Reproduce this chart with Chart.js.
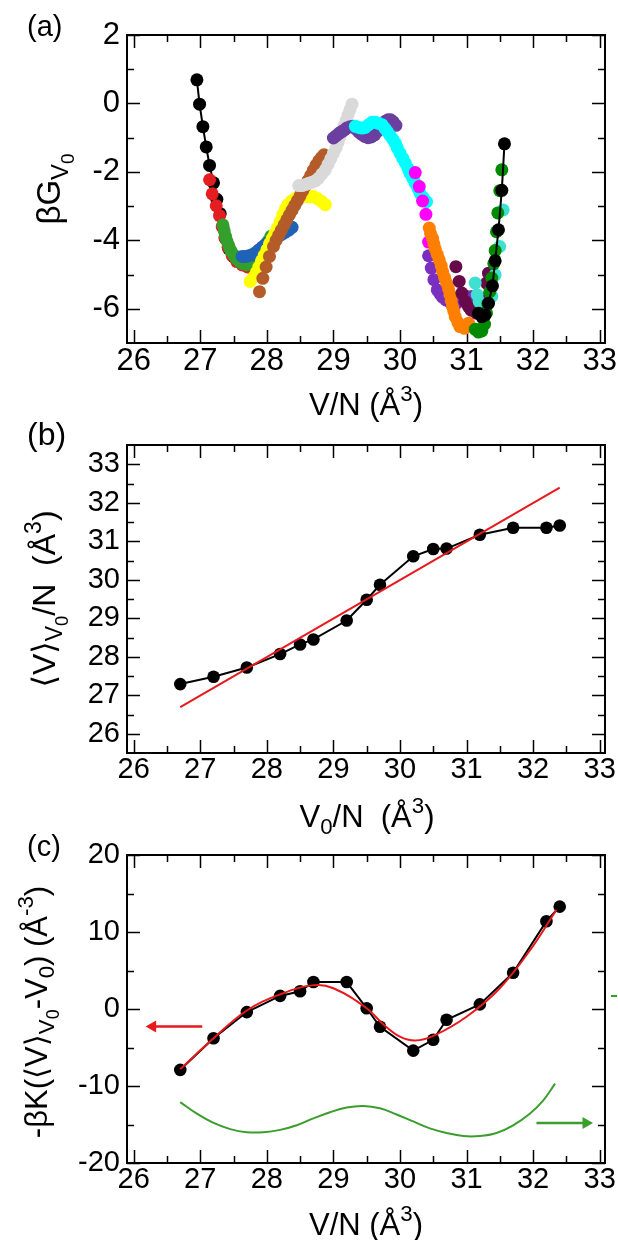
<!DOCTYPE html>
<html>
<head>
<meta charset="utf-8">
<script src="https://cdn.jsdelivr.net/npm/chart.js@4.4.1/dist/chart.umd.min.js"></script>
<style>
  body { margin: 0; background: #fff; }
  #page { position: relative; width: 618px; height: 1240px; overflow: hidden; font-family: "Liberation Sans", "DejaVu Sans", sans-serif; color: #000; }
  #page canvas { position: absolute; left: 0; }
  .lbl { position: absolute; line-height: 1; white-space: nowrap; }
  .rot { transform: translate(-50%, -50%) rotate(-90deg); }
  .ctr { transform: translateX(-50%); }
  .lbl sub { font-size: 0.72em; vertical-align: -0.32em; line-height: 0; }
  .lbl sub sub { font-size: 0.8em; vertical-align: -0.3em; }
  .lbl sup { font-size: 0.72em; vertical-align: 0.62em; line-height: 0; }
  .dash { position: absolute; left: 611px; top: 995px; width: 6px; height: 2px; background: #33a02c; }
</style>
</head>
<body>
<div id="page">
  <canvas id="chartA" width="618" height="400" style="top:0"></canvas>
  <canvas id="chartB" width="618" height="400" style="top:410px"></canvas>
  <canvas id="chartC" width="618" height="400" style="top:820px"></canvas>

  <div class="lbl" style="left:27px;top:12px;font-size:29px">(a)</div>
  <div class="lbl rot" style="left:50px;top:189px;font-size:33px">βG<sub>V<sub>0</sub></sub></div>
  <div class="lbl ctr" style="left:366px;top:389px;font-size:31px">V/N (Å<sup>3</sup>)</div>

  <div class="lbl" style="left:27px;top:418px;font-size:32px">(b)</div>
  <div class="lbl rot" style="left:45px;top:599px;font-size:32px">⟨V⟩<sub>V<sub>0</sub></sub>/N&nbsp; (Å<sup>3</sup>)</div>
  <div class="lbl ctr" style="left:367px;top:801px;font-size:31px">V<sub>0</sub>/N&nbsp; (Å<sup>3</sup>)</div>

  <div class="lbl" style="left:27px;top:832px;font-size:29px">(c)</div>
  <div class="lbl rot" style="left:37px;top:1012px;font-size:31px">-βK(⟨V⟩<sub>V<sub>0</sub></sub>-V<sub>0</sub>) (Å<sup>-3</sup>)</div>
  <div class="lbl ctr" style="left:366px;top:1209px;font-size:31px">V/N (Å<sup>3</sup>)</div>
  <div class="dash"></div>
</div>
<script>
// shared x ticks (V/N)
var xMajor = [26, 27, 28, 29, 30, 31, 32, 33];
var xMinor = [26.5, 27.5, 28.5, 29.5, 30.5, 31.5, 32.5];

// (a) beta*G for each umbrella window, [V/N, betaG]
var aYMajor = [-6, -4, -2, 0, 2];
var aYMinor = [-5, -3, -1, 1];
var aBlackLeft = [[26.95,0.69],[26.99,-0.02],[27.04,-0.68],[27.09,-1.27],[27.14,-1.81],[27.20,-2.32],[27.25,-2.80],[27.30,-3.22],[27.34,-3.60],[27.38,-3.95],[27.43,-4.25],[27.50,-4.48],[27.58,-4.62],[27.67,-4.68]];
var aRed = [[27.14,-2.23],[27.18,-2.64],[27.24,-2.99],[27.29,-3.28],[27.33,-3.60],[27.37,-3.92],[27.42,-4.20],[27.48,-4.45],[27.55,-4.62],[27.63,-4.72],[27.71,-4.78],[27.78,-4.81]];
var aGreen = [[27.34,-3.55],[27.36,-3.72],[27.38,-3.88],[27.40,-4.02],[27.43,-4.16],[27.46,-4.30],[27.50,-4.42],[27.54,-4.53],[27.59,-4.62],[27.64,-4.68],[27.70,-4.72],[27.76,-4.70],[27.82,-4.62],[27.87,-4.50],[27.92,-4.36],[27.97,-4.20],[28.02,-4.02],[28.06,-3.88]];
var aBlue = [[27.63,-4.47],[27.68,-4.47],[27.73,-4.45],[27.78,-4.42],[27.83,-4.36],[27.88,-4.28],[27.93,-4.20],[27.98,-4.12],[28.03,-4.06],[28.08,-4.00],[28.13,-3.94],[28.18,-3.88],[28.23,-3.82],[28.28,-3.76],[28.33,-3.70],[28.38,-3.62]];
var aYellow = [[27.75,-5.20],[27.80,-5.08],[27.84,-4.95],[27.88,-4.78],[27.92,-4.60],[27.96,-4.44],[28.00,-4.28],[28.04,-4.10],[28.08,-3.95],[28.12,-3.80],[28.16,-3.64],[28.20,-3.45],[28.24,-3.25],[28.28,-3.08],[28.32,-2.95],[28.37,-2.85],[28.43,-2.78],[28.50,-2.74],[28.57,-2.72],[28.64,-2.72],[28.70,-2.72],[28.76,-2.78],[28.82,-2.86],[28.88,-2.96]];
var aBrown = [[27.89,-5.50],[27.94,-5.11],[27.99,-4.78],[28.04,-4.47],[28.10,-4.18],[28.14,-4.00],[28.18,-3.85],[28.22,-3.70],[28.26,-3.55],[28.30,-3.40],[28.34,-3.26],[28.38,-3.12],[28.42,-2.98],[28.46,-2.84],[28.50,-2.70],[28.54,-2.55],[28.58,-2.40],[28.62,-2.25],[28.66,-2.10],[28.70,-1.95],[28.74,-1.80],[28.78,-1.68],[28.82,-1.58],[28.86,-1.50]];
var aGrey = [[28.48,-2.40],[28.53,-2.40],[28.58,-2.37],[28.63,-2.33],[28.68,-2.30],[28.73,-2.26],[28.78,-2.18],[28.83,-2.06],[28.88,-1.94],[28.92,-1.78],[28.96,-1.62],[29.00,-1.46],[29.04,-1.30],[29.07,-1.14],[29.10,-0.98],[29.13,-0.82],[29.16,-0.66],[29.19,-0.50],[29.22,-0.34],[29.25,-0.18],[29.28,-0.02]];
var aPurple = [[29.00,-1.01],[29.04,-0.95],[29.08,-0.88],[29.12,-0.83],[29.16,-0.78],[29.20,-0.72],[29.25,-0.68],[29.30,-0.67],[29.34,-0.75],[29.38,-0.83],[29.42,-0.90],[29.47,-0.96],[29.52,-1.00],[29.57,-0.98],[29.62,-0.92],[29.66,-0.82],[29.70,-0.70],[29.74,-0.60],[29.78,-0.52],[29.82,-0.48],[29.86,-0.48],[29.90,-0.54],[29.94,-0.64]];
var aCyan = [[29.33,-0.67],[29.38,-0.70],[29.43,-0.72],[29.48,-0.70],[29.53,-0.62],[29.58,-0.55],[29.63,-0.55],[29.68,-0.58],[29.73,-0.62],[29.77,-0.72],[29.81,-0.82],[29.85,-0.93],[29.89,-1.04],[29.93,-1.16],[29.96,-1.30],[30.00,-1.45],[30.04,-1.60],[30.08,-1.74],[30.12,-1.90],[30.15,-2.04],[30.19,-2.18],[30.23,-2.33],[30.27,-2.48],[30.30,-2.62],[30.35,-2.75],[30.40,-2.87]];
var aMagenta = [[30.23,-2.02],[30.29,-2.43],[30.34,-2.85],[30.39,-3.24],[30.43,-4.05],[30.85,-5.84]];
var aViolet = [[30.43,-4.45],[30.47,-4.81],[30.51,-5.15],[30.56,-5.45],[30.60,-5.56],[30.64,-5.66],[30.69,-5.74],[30.75,-5.80],[30.81,-5.82],[30.87,-5.80],[30.93,-5.72],[31.00,-5.64],[31.08,-5.64]];
var aOrange = [[30.44,-3.64],[30.46,-3.80],[30.49,-3.94],[30.51,-4.10],[30.53,-4.25],[30.56,-4.41],[30.59,-4.57],[30.62,-4.74],[30.64,-4.91],[30.67,-5.08],[30.70,-5.25],[30.73,-5.42],[30.75,-5.59],[30.77,-5.76],[30.79,-5.94],[30.81,-6.08],[30.83,-6.23],[30.87,-6.40],[30.90,-6.52],[30.97,-6.57],[31.03,-6.42]];
var aMaroon = [[30.84,-4.77],[30.89,-5.20],[30.93,-5.54],[30.98,-5.79],[31.03,-5.94],[31.07,-6.04],[31.15,-6.13],[31.22,-6.05],[31.27,-5.70],[31.30,-5.25],[31.33,-4.96]];
var aTurquoise = [[31.13,-5.25],[31.16,-5.59],[31.19,-5.79],[31.38,-5.64],[31.43,-5.01],[31.50,-4.18],[31.55,-3.11]];
var aDarkGreen = [[31.13,-6.60],[31.18,-6.68],[31.23,-6.65],[31.27,-6.45],[31.30,-6.12],[31.32,-5.85],[31.35,-5.50],[31.38,-5.10],[31.41,-4.68],[31.43,-4.30],[31.45,-3.75],[31.47,-3.20],[31.50,-2.55],[31.53,-1.94]];
var aBlackRight = [[31.18,-6.13],[31.23,-6.23],[31.28,-6.18],[31.33,-5.84],[31.39,-5.33],[31.43,-4.60],[31.48,-3.69],[31.53,-2.54],[31.57,-1.18]];

// (b) <V>_V0 / N against V0 / N
var bYMajor = [26, 27, 28, 29, 30, 31, 32, 33];
var bYMinor = [26.5, 27.5, 28.5, 29.5, 30.5, 31.5, 32.5];
var v0 = [26.7, 27.2, 27.7, 28.2, 28.5, 28.7, 29.2, 29.5, 29.7, 30.2, 30.5, 30.7, 31.2, 31.7, 32.2, 32.4];
var meanV = [27.29, 27.48, 27.72, 28.07, 28.32, 28.45, 28.94, 29.48, 29.87, 30.61, 30.80, 30.81, 31.17, 31.35, 31.35, 31.41];
var bDiagX = [26.7, 32.4];
var bDiagY = [26.69, 32.39];

// (c) -betaK(<V>_V0 - V0) with smooth fit and right-axis curve
var cYMajor = [-20, -10, 0, 10, 20];
var cYMinor = [-15, -5, 5, 15];
var force = [-7.9, -3.8, -0.4, 1.7, 2.3, 3.5, 3.5, 0.1, -2.3, -5.4, -4.0, -1.4, 0.6, 4.7, 11.4, 13.3];
var fitX = [26.7, 27.2, 27.7, 28.2, 28.7, 29.0, 29.5, 29.75, 30.0, 30.23, 30.5, 31.0, 31.5, 32.0, 32.35];
var fitY = [-7.8, -3.8, -0.2, 1.9, 3.1, 2.7, 0.1, -2.0, -3.6, -4.1, -3.5, -1.0, 2.7, 8.2, 12.9];
var greenX = [26.7, 26.95, 27.2, 27.45, 27.7, 27.95, 28.2, 28.45, 28.7, 28.95, 29.2, 29.45, 29.7, 29.95, 30.2, 30.45, 30.7, 30.95, 31.2, 31.45, 31.7, 31.95, 32.15, 32.33];
var greenY = [-12.1, -13.6, -14.8, -15.6, -16.0, -16.0, -15.7, -15.1, -14.2, -13.4, -12.8, -12.6, -12.9, -13.7, -14.6, -15.5, -16.1, -16.5, -16.5, -16.1, -15.1, -13.6, -11.9, -9.7];
var redArrow = [[27.03, -2.27], [26.285, -2.27]];
var greenArrow = [[32.05, -14.8], [32.795, -14.8]];

var FONT = '"Liberation Sans", "DejaVu Sans", sans-serif';
var RED = '#e8191c', GREEN = '#3a9d2c';

function pairs(xs, ys) {
    return xs.map(function(x, i) { return {x: x, y: ys[i]}; });
}

function dotSet(pts, color, joined) {
    return {
        data: pts.map(function(p) { return {x: p[0], y: p[1]}; }),
        backgroundColor: color,
        borderColor: color,
        pointRadius: 6.5,
        pointHoverRadius: 6.5,
        pointBorderWidth: 0,
        showLine: joined,
        borderWidth: 2
    };
}

function curve(data, color) {
    return {
        data: data, borderColor: color, backgroundColor: color,
        showLine: true, borderWidth: 2, tension: 0.4, pointRadius: 0
    };
}

function arrow(pts, color, angle) {
    return {
        data: pts.map(function(p) { return {x: p[0], y: p[1]}; }),
        borderColor: color, backgroundColor: color,
        showLine: true, borderWidth: 2.5,
        pointRadius: [0, 7], pointStyle: 'triangle',
        pointRotation: [0, angle], pointBorderWidth: 0
    };
}

// box frame with inward ticks on all four sides
var frameTicks = {
    id: 'frameTicks',
    beforeDatasetsDraw: function(chart, args, o) {
        var ctx = chart.ctx, a = chart.chartArea;
        var sx = chart.scales.x, sy = chart.scales.y;
        ctx.save();
        ctx.strokeStyle = '#000';
        ctx.lineWidth = 1.5;
        ctx.beginPath();
        function xMarks(vals, len) {
            vals.forEach(function(v) {
                var p = Math.round(sx.getPixelForValue(v)) + 0.5;
                ctx.moveTo(p, a.bottom); ctx.lineTo(p, a.bottom - len);
                ctx.moveTo(p, a.top); ctx.lineTo(p, a.top + len);
            });
        }
        function yMarks(vals, len) {
            vals.forEach(function(v) {
                var p = Math.round(sy.getPixelForValue(v)) + 0.5;
                ctx.moveTo(a.left, p); ctx.lineTo(a.left + len, p);
                ctx.moveTo(a.right, p); ctx.lineTo(a.right - len, p);
            });
        }
        xMarks(xMajor, 13); xMarks(xMinor, 7);
        yMarks(o.yMajor, 13); yMarks(o.yMinor, 7);
        ctx.stroke();
        ctx.lineWidth = 2;
        ctx.strokeRect(a.left, a.top, a.right - a.left, a.bottom - a.top);
        ctx.restore();
    }
};

function panelOptions(yMin, yMax, yMajor, yMinor, fontSize) {
    return {
        responsive: false,
        animation: false,
        events: [],
        layout: {padding: {top: 35, right: 13, left: 0, bottom: 0}},
        plugins: {
            legend: {display: false},
            tooltip: {enabled: false},
            frameTicks: {yMajor: yMajor, yMinor: yMinor}
        },
        scales: {
            x: {
                type: 'linear', min: 25.9, max: 33.08,
                afterBuildTicks: function(s) { s.ticks = xMajor.map(function(v) { return {value: v}; }); },
                afterFit: function(s) { s.height = 57; },
                grid: {display: false, drawTicks: false},
                border: {display: false},
                ticks: {font: {family: FONT, size: fontSize}, color: '#000', padding: 0, maxRotation: 0, autoSkip: false,
                        callback: function(v) { return String(v); }}
            },
            y: {
                type: 'linear', min: yMin, max: yMax,
                afterBuildTicks: function(s) { s.ticks = yMajor.map(function(v) { return {value: v}; }); },
                afterFit: function(s) { s.width = 127; },
                grid: {display: false, drawTicks: false},
                border: {display: false},
                ticks: {font: {family: FONT, size: fontSize}, color: '#000', padding: 7, autoSkip: false,
                        callback: function(v) { return String(v); }}
            }
        }
    };
}

// panel (a): later entries sit on top
var aSets = [
    dotSet(aBlackLeft, '#000000', true),
    dotSet(aRed, '#e41e20', false),
    dotSet(aGreen, '#33a02c', false),
    dotSet(aBlue, '#1f62b6', false),
    dotSet(aYellow, '#ffff00', false),
    dotSet(aBrown, '#b35c2a', false),
    dotSet(aGrey, '#d9d9d9', false),
    dotSet(aPurple, '#6b3fa0', false),
    dotSet(aCyan, '#00ffff', false),
    dotSet(aMagenta, '#ff00ff', false),
    dotSet(aViolet, '#7a2fc0', false),
    dotSet(aOrange, '#ff7f00', false),
    dotSet(aMaroon, '#660a4a', false),
    dotSet(aTurquoise, '#40e0d0', false),
    dotSet(aDarkGreen, '#008a00', false),
    dotSet(aBlackRight, '#000000', true)
].reverse();

new Chart(document.getElementById('chartA'), {
    type: 'scatter',
    data: {datasets: aSets},
    options: panelOptions(-7, 2, aYMajor, aYMinor, 31),
    plugins: [frameTicks]
});

new Chart(document.getElementById('chartB'), {
    type: 'scatter',
    data: {datasets: [
        curve(pairs(bDiagX, bDiagY), RED),
        {
            data: pairs(v0, meanV), borderColor: '#000', backgroundColor: '#000',
            showLine: true, borderWidth: 2, pointRadius: 6.3, pointBorderWidth: 0
        }
    ]},
    options: panelOptions(25.5, 33.5, bYMajor, bYMinor, 29),
    plugins: [frameTicks]
});

new Chart(document.getElementById('chartC'), {
    type: 'scatter',
    data: {datasets: [
        arrow(redArrow, RED, -90),
        arrow(greenArrow, GREEN, 90),
        curve(pairs(fitX, fitY), RED),
        {
            data: pairs(v0, force), borderColor: '#000', backgroundColor: '#000',
            showLine: true, borderWidth: 2, pointRadius: 6.3, pointBorderWidth: 0
        },
        curve(pairs(greenX, greenY), GREEN)
    ]},
    options: panelOptions(-20, 20, cYMajor, cYMinor, 29),
    plugins: [frameTicks]
});
</script>
</body>
</html>
